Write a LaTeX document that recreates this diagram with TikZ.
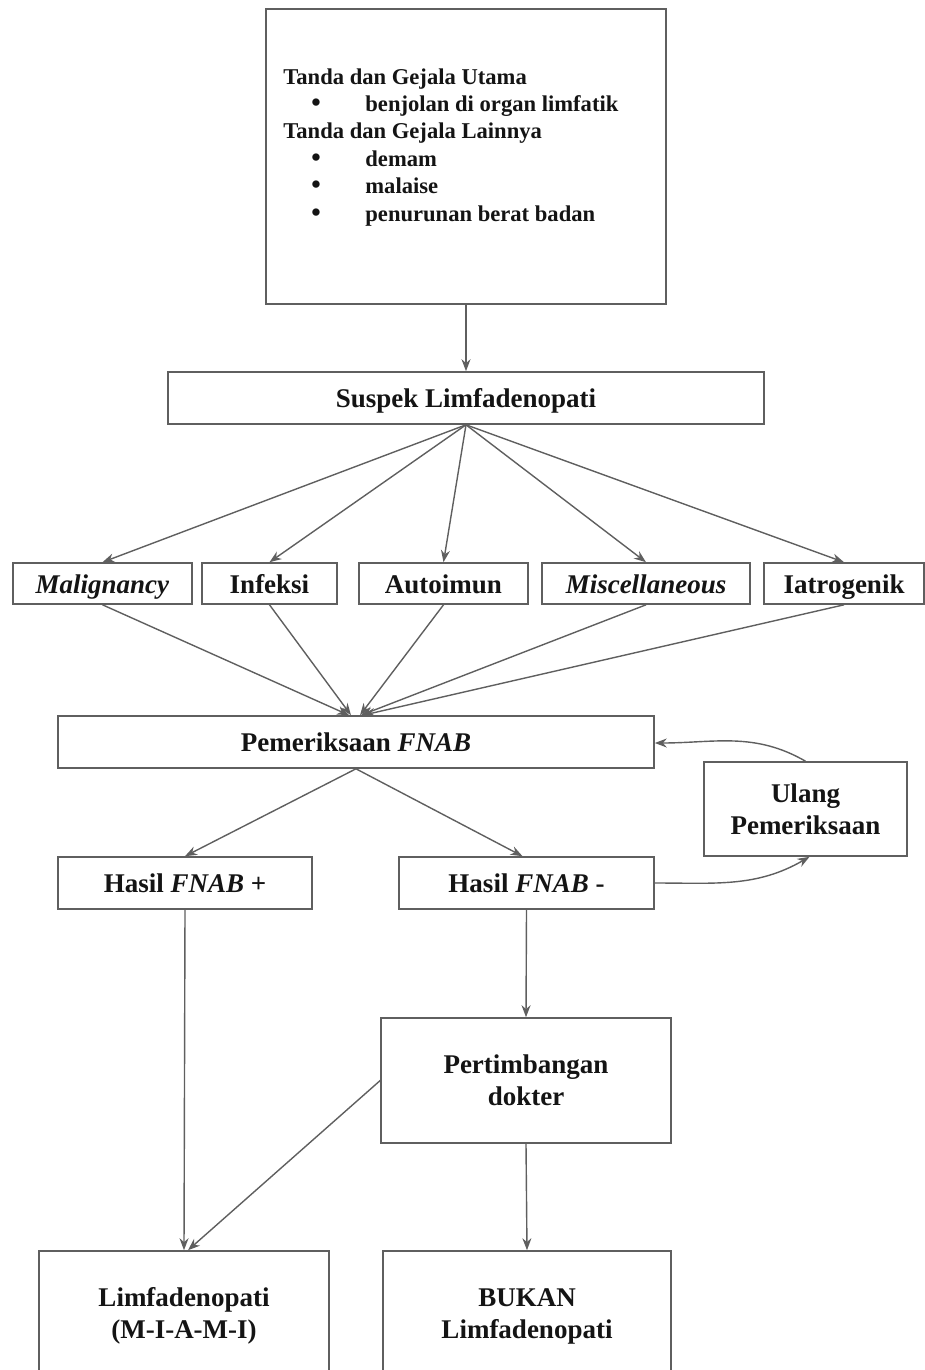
\documentclass[tikz,border=0pt]{standalone}
\usepackage{fontspec}
\setmainfont{Liberation Serif}
\usetikzlibrary{arrows.meta, positioning}
\definecolor{FlowLine}{RGB}{95, 95, 95}
\definecolor{FlowText}{RGB}{20, 20, 20}
\newcommand{\gbullet}{\hspace*{14pt}\makebox[27pt][l]{\fontsize{13.5}{13.7}\selectfont\textbullet}}

\begin{document}
\begin{tikzpicture}[x=0.5pt,y=-0.5pt,
  box/.style={draw=FlowLine, line width=0.8pt, fill=white, align=center, inner sep=0pt,
    text=FlowText, font=\fontsize{13.5}{16}\selectfont\bfseries},
  onerow/.style={box, text height=11.5pt, text depth=2pt},
  listtext/.style={align=left, inner sep=0pt, text=FlowText,
    font=\fontsize{11.3}{13.7}\selectfont\bfseries},
  arr/.style={draw=FlowLine, line width=0.7pt, -{Stealth[length=6pt,width=4.5pt]}}]
  \clip (0,0) rectangle (925,1370);

  % Gejala box
  \node[box, minimum width=200pt, minimum height=147.5pt] (gejala) at (466,156.5) {};
  \node[listtext, anchor=north west] (gejalatext) at (283,68) {
    Tanda dan Gejala Utama\\
    \gbullet benjolan di organ limfatik\\
    Tanda dan Gejala Lainnya\\
    \gbullet demam\\
    \gbullet malaise\\
    \gbullet penurunan berat badan};

  % Suspek
  \node[onerow, minimum width=298pt, minimum height=26pt] (suspek) at (466,398) {Suspek Limfadenopati};

  % 5 Etiologi
  \node[onerow, minimum width=89.5pt, minimum height=20.5pt] (malig) at (102.5,583.5) {\textit{Malignancy}};
  \node[onerow, minimum width=67.5pt, minimum height=20.5pt] (infeksi) at (269.5,583.5) {Infeksi};
  \node[onerow, minimum width=84.5pt, minimum height=20.5pt] (autoimun) at (443.5,583.5) {Autoimun};
  \node[onerow, minimum width=104pt, minimum height=20.5pt] (misc) at (646,583.5) {\textit{Miscellaneous}};
  \node[onerow, minimum width=80pt, minimum height=20.5pt] (iatro) at (844,583.5) {Iatrogenik};

  % FNAB
  \node[onerow, minimum width=298pt, minimum height=26pt] (fnab) at (356,742) {Pemeriksaan \textit{FNAB}};
  \node[box, minimum width=101.5pt, minimum height=47pt] (ulang) at (805.5,809) {Ulang\\Pemeriksaan};
  \node[onerow, minimum width=127pt, minimum height=26pt] (hasilplus) at (185,883) {Hasil \textit{FNAB} +};
  \node[onerow, minimum width=127.5pt, minimum height=26pt] (hasilmin) at (526.5,883) {Hasil \textit{FNAB} -};

  % Keputusan
  \node[box, minimum width=145pt, minimum height=62.5pt] (timbang) at (526,1080.5) {Pertimbangan\\dokter};
  \node[box, minimum width=145pt, minimum height=65pt] (limfa) at (184,1316) {Limfadenopati\\(M-I-A-M-I)};
  \node[box, minimum width=144pt, minimum height=65pt] (bukan) at (527,1316) {BUKAN\\Limfadenopati};

  % Connectors
  \draw[arr] (gejala) -- (suspek);
  \foreach \n in {malig, infeksi, autoimun, misc, iatro}
    \draw[arr] (suspek.south) -- (\n.north);
  \foreach \n/\dx in {malig/-3.5pt, infeksi/-2.5pt, autoimun/2pt, misc/2.5pt, iatro/3.5pt}
    \draw[arr] (\n.south) -- ([xshift=\dx]fnab.north);
  \draw[arr] (fnab.south) -- (hasilplus.north);
  \draw[arr] (fnab.south) -- ([xshift=-2pt]hasilmin.north);
  \draw[arr] (ulang.north) to[out=150, in=0] ([yshift=-0.5pt]fnab.east);
  \draw[arr] (hasilmin.east) to[out=0, in=-150] ([xshift=2pt]ulang.south);
  \draw[arr] (hasilplus.south) -- (limfa.north);
  \draw[arr] (hasilmin.south) -- (timbang.north);
  \draw[arr] (timbang.south) -- (bukan.north);
  \draw[arr] (timbang.west) -- ([xshift=2pt]limfa.north);
\end{tikzpicture}
\end{document}
